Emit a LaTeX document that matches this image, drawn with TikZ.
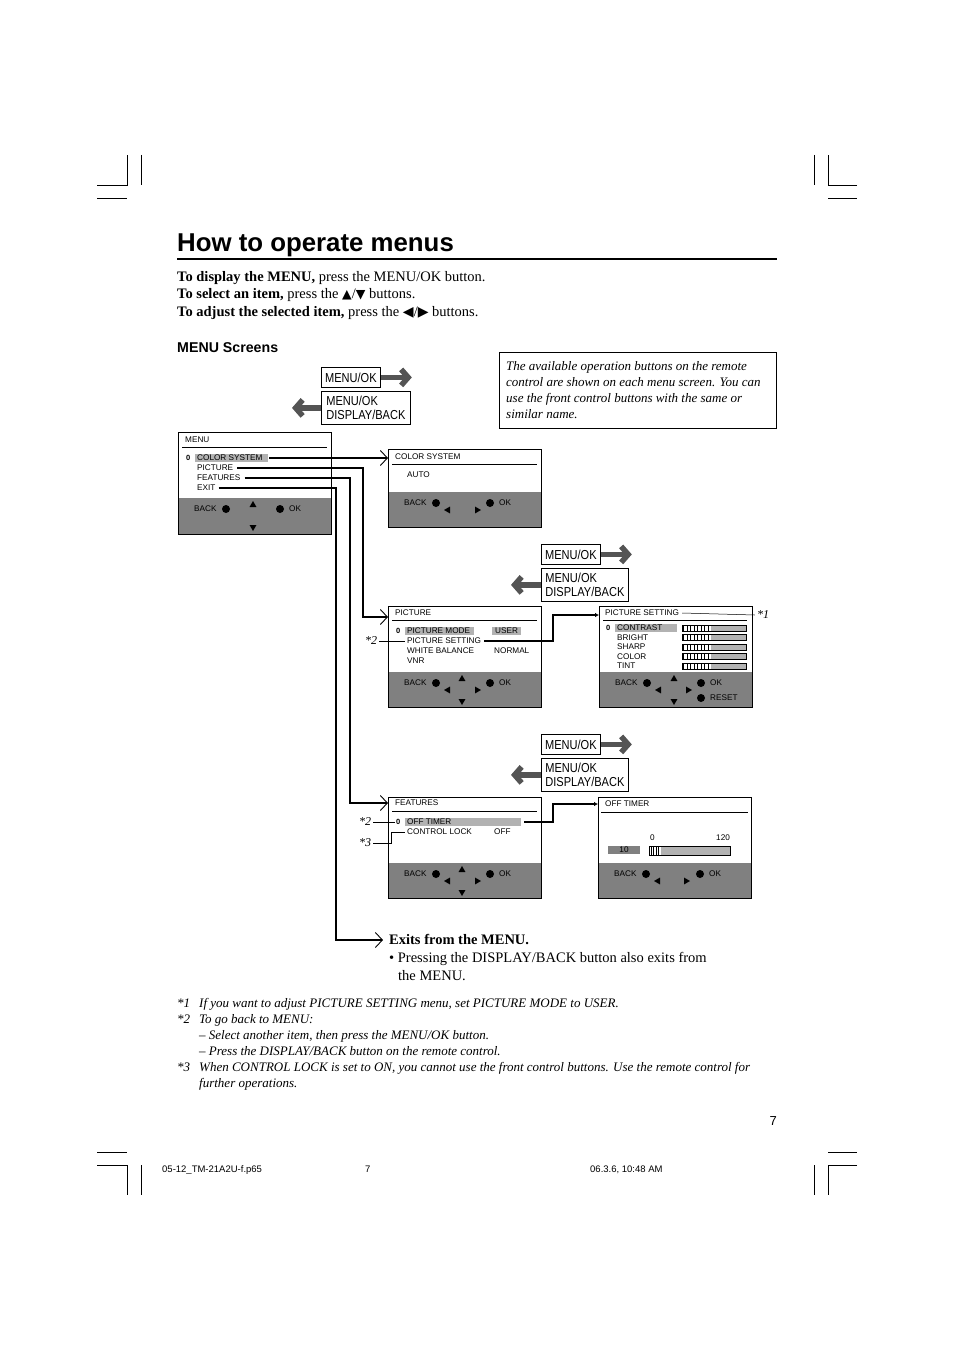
\documentclass[tikz,border=0pt]{standalone}
\usepackage{fontspec}
\setmainfont{Liberation Serif}
\setsansfont{Liberation Sans}
\newfontfamily\btnfont[FakeStretch=0.85]{Liberation Sans}
\newfontfamily\symfont{DejaVu Sans}
\usetikzlibrary{arrows.meta,shapes.geometric}
\definecolor{panelgray}{gray}{0.5}
\definecolor{hlgray}{gray}{0.7}
\definecolor{bargray}{gray}{0.7}
\definecolor{arrgray}{gray}{0.33}
\newcommand{\arrsym}[1]{{\symfont\fontsize{12.5}{14}\selectfont #1}}
\newcommand{\lrsym}[1]{{\symfont\fontsize{14}{14}\selectfont #1}}

\begin{document}
\begin{tikzpicture}[x=1pt,y=-1pt,
  scr/.style={draw, line width=0.8pt, anchor=north west, inner sep=0, minimum width=153},
  txt/.style={anchor=west, inner sep=0, font=\sffamily\fontsize{8.2}{9}\selectfont},
  selm/.style={anchor=west, inner sep=0, font=\sffamily\bfseries\fontsize{7.5}{8}\selectfont},
  hlbox/.style={fill=hlgray, anchor=west, inner sep=0, minimum height=8.5},
  dot/.style={circle, fill, inner sep=0, minimum size=8},
  tri/.style={regular polygon, regular polygon sides=3, fill, inner sep=0, minimum size=8},
  conn/.style={line width=1.6pt},
  head/.style={-{Straight Barb[length=7pt,width=15pt,line width=0.9pt]}},
  thinconn/.style={line width=1.3pt, -{Latex[length=4pt,width=4.5pt]}},
  ast/.style={inner sep=0, font=\itshape\fontsize{12}{14}\selectfont},
  btn/.style={draw, line width=0.8pt, anchor=north west, inner sep=2pt, align=left, font=\btnfont\fontsize{13}{14}\selectfont},
  bigarr/.style={draw=arrgray, line width=5.5pt, -{Straight Barb[length=7pt,width=16pt]}},
  body/.style={anchor=base west, inner sep=0, font=\fontsize{14.5}{17}\selectfont},
  note/.style={anchor=base west, inner sep=0, font=\itshape\fontsize{13}{15}\selectfont},
  foot/.style={anchor=base west, inner sep=0, font=\sffamily\fontsize{9.5}{11}\selectfont},
  crop/.style={line width=0.8pt}]

\fill[white] (0,0) rectangle (954,1351);
\useasboundingbox (0,0) rectangle (954,1351);

\draw[crop] (97,185) -- (127,185) -- (127,155);
\draw[crop] (141,155) -- (141,185);
\draw[crop] (97,198) -- (127,198);
\draw[crop] (857,185) -- (828,185) -- (828,155);
\draw[crop] (814,155) -- (814,185);
\draw[crop] (828,198) -- (857,198);
\draw[crop] (97,1152) -- (127,1152);
\draw[crop] (97,1165) -- (127,1165) -- (127,1195);
\draw[crop] (141,1165) -- (141,1195);
\draw[crop] (828,1152) -- (857,1152);
\draw[crop] (857,1165) -- (828,1165) -- (828,1195);
\draw[crop] (814,1165) -- (814,1195);

\node[anchor=base west, inner sep=0, font=\sffamily\bfseries\fontsize{25.8}{30}\selectfont] (title) at (177,251) {How to operate menus};
\draw[line width=1.8pt] (177,259) -- (777,259);

\node[body] (l1) at (177,281) {\textbf{To display the MENU,} press the MENU/OK button.};
\node[body] (l2) at (177,298.5) {\textbf{To select an item,} press the \arrsym{▲}/\arrsym{▼} buttons.};
\node[body] (l3) at (177,316) {\textbf{To adjust the selected item,} press the \lrsym{◀}/\lrsym{▶} buttons.};

\node[anchor=base west, inner sep=0, font=\sffamily\bfseries\fontsize{14.2}{16}\selectfont] (hscr) at (177,352) {MENU Screens};

\node[draw, line width=0.8pt, anchor=north west, inner sep=0, minimum width=277, minimum height=76] (notebox) at (499,352) {};
\node[note] (n1) at (506,370) {The available operation buttons on the remote};
\node[note] (n2) at (506,386) {control are shown on each menu screen. You can};
\node[note] (n3) at (506,402) {use the front control buttons with the same or};
\node[note] (n4) at (506,418) {similar name.};

\node[btn, minimum width=59, minimum height=20] (ok1) at (321,367) {MENU/OK};
\node[btn, minimum width=89, minimum height=33] (back1) at (321,391) {MENU/OK\\DISPLAY/BACK};
\draw[bigarr] (ok1.east) -- ++(31,0);
\draw[bigarr] (back1.west) -- ++(-29,0);

\node[btn, minimum width=59, minimum height=20] (ok2) at (541,544) {MENU/OK};
\node[btn, minimum width=87, minimum height=33] (back2) at (541,568) {MENU/OK\\DISPLAY/BACK};
\draw[bigarr] (ok2.east) -- ++(31,0);
\draw[bigarr] (back2.west) -- ++(-30,0);

\node[btn, minimum width=59, minimum height=20] (ok3) at (541,734) {MENU/OK};
\node[btn, minimum width=87, minimum height=33] (back3) at (541,758) {MENU/OK\\DISPLAY/BACK};
\draw[bigarr] (ok3.east) -- ++(31,0);
\draw[bigarr] (back3.west) -- ++(-30,0);

% MENU
\begin{scope}[shift={(178,432)}]
\fill[panelgray] (0,66) rectangle (153,102);
\node[scr, minimum height=102] (smenu) at (0,0) {};
\node[txt] (tmenu) at (7,8) {MENU};
\draw[line width=0.6pt] (4,15) -- (149,15);
\node[hlbox, minimum width=73] (hcs) at (17,26) {};
\node[selm] (selmenu) at (8,26) {0};
\node[txt] (mcs) at (19,26) {COLOR SYSTEM};
\node[txt] (mpic) at (19,36) {PICTURE};
\node[txt] (mfeat) at (19,46) {FEATURES};
\node[txt] (mexit) at (19,56) {EXIT};
\node[txt] at (16,77) {BACK};
\node[dot] at (48,77) {};
\node[tri] at (75,73) {};
\node[tri, shape border rotate=180] at (75,95) {};
\node[dot] at (102,77) {};
\node[txt] at (111,77) {OK};
\end{scope}

% COLOR SYSTEM
\begin{scope}[shift={(388,449)}]
\fill[panelgray] (0,43) rectangle (153,78);
\node[scr, minimum height=78] (scs) at (0,0) {};
\node[txt] (tcs) at (7,8) {COLOR SYSTEM};
\draw[line width=0.6pt] (4,15) -- (149,15);
\node[txt] (cauto) at (19,26) {AUTO};
\node[txt] at (16,54) {BACK};
\node[dot] at (48,54) {};
\node[tri, shape border rotate=90] at (60,61) {};
\node[tri, shape border rotate=-90] at (89,61) {};
\node[dot] at (102,54) {};
\node[txt] at (111,54) {OK};
\end{scope}

% PICTURE
\begin{scope}[shift={(388,606)}]
\fill[panelgray] (0,66) rectangle (153,101);
\node[scr, minimum height=101] (spic) at (0,0) {};
\node[txt] (tpic) at (7,7) {PICTURE};
\draw[line width=0.6pt] (4,14) -- (149,14);
\node[hlbox, minimum width=69] (hpmode) at (17,25) {};
\node[hlbox, minimum width=29] (huser) at (104,25) {};
\node[selm] (selpic) at (8,25) {0};
\node[txt] (ppmode) at (19,25) {PICTURE MODE};
\node[txt] (puser) at (107,25) {USER};
\node[txt] (ppset) at (19,35) {PICTURE SETTING};
\node[txt] (pwb) at (19,45) {WHITE BALANCE};
\node[txt] (pnorm) at (106,45) {NORMAL};
\node[txt] (pvnr) at (19,55) {VNR};
\node[txt] at (16,77) {BACK};
\node[dot] at (48,77) {};
\node[tri, shape border rotate=90] at (60,84) {};
\node[tri] at (74,73) {};
\node[tri, shape border rotate=180] at (74,95) {};
\node[tri, shape border rotate=-90] at (89,84) {};
\node[dot] at (102,77) {};
\node[txt] at (111,77) {OK};
\end{scope}

% PICTURE SETTING
\begin{scope}[shift={(599,606)}]
\fill[panelgray] (0,66) rectangle (153,101);
\node[scr, minimum height=101] (spset) at (0,0) {};
\node[txt] (pstitle) at (6,7) {PICTURE SETTING};
\draw[line width=0.6pt] (4,14) -- (148,14);
\node[hlbox, minimum width=62] (hcon) at (16,22) {};
\node[selm] (selps) at (7,22) {0};
\node[txt] (scon) at (18,22) {CONTRAST};
\node[txt] (sbri) at (18,32) {BRIGHT};
\node[txt] (ssha) at (18,41) {SHARP};
\node[txt] (scol) at (18,51) {COLOR};
\node[txt] (stint) at (18,60) {TINT};
\foreach \yy in {19,28.5,38,47.5,57} {
  \fill[bargray] (83,\yy) rectangle (147,\yy+6);
  \fill[white] (84,\yy) rectangle (112,\yy+6);
  \foreach \xx in {84.5,88,...,112} \draw[line width=0.8pt] (\xx,\yy) -- (\xx,\yy+6);
  \draw[line width=0.6pt] (83,\yy) rectangle (147,\yy+6);
}
\node[txt] at (16,77) {BACK};
\node[dot] at (48,77) {};
\node[tri, shape border rotate=90] at (60,84) {};
\node[tri] at (75,73) {};
\node[tri, shape border rotate=180] at (75,95) {};
\node[tri, shape border rotate=-90] at (89,84) {};
\node[dot] at (102,77) {};
\node[txt] at (111,77) {OK};
\node[dot] at (102,92) {};
\node[txt] at (111,92) {RESET};
\end{scope}

% FEATURES
\begin{scope}[shift={(388,797)}]
\fill[panelgray] (0,66) rectangle (153,101);
\node[scr, minimum height=101] (sfeat) at (0,0) {};
\node[txt] (tfeat) at (7,6) {FEATURES};
\draw[line width=0.6pt] (4,14) -- (149,14);
\node[hlbox, minimum width=116] (hofft) at (17,25) {};
\node[selm] (fsel) at (8,25) {0};
\node[txt] (fofft) at (19,25) {OFF TIMER};
\node[txt] (fcl) at (19,35) {CONTROL LOCK};
\node[txt] (foff) at (106,35) {OFF};
\node[txt] at (16,77) {BACK};
\node[dot] at (48,77) {};
\node[tri, shape border rotate=90] at (60,84) {};
\node[tri] at (74,73) {};
\node[tri, shape border rotate=180] at (74,95) {};
\node[tri, shape border rotate=-90] at (89,84) {};
\node[dot] at (102,77) {};
\node[txt] at (111,77) {OK};
\end{scope}

% OFF TIMER
\begin{scope}[shift={(598,797)}]
\fill[panelgray] (0,66) rectangle (153,101);
\node[scr, minimum height=101] (soff) at (0,0) {};
\node[txt] (toff) at (7,7) {OFF TIMER};
\draw[line width=0.6pt] (3,15) -- (150,15);
\node[txt] (omin) at (52,41) {0};
\node[txt] (omax) at (118,41) {120};
\fill[panelgray] (10,49) rectangle (42,57);
\node[txt, anchor=center] (oval) at (26,53) {10};
\fill[bargray] (51,49) rectangle (132,58);
\fill[white] (52,49) rectangle (63,58);
\foreach \xx in {53,55.5,...,62} \draw[line width=0.8pt] (\xx,49) -- (\xx,58);
\draw[line width=0.6pt] (51,49) rectangle (132,58);
\node[txt] at (16,77) {BACK};
\node[dot] at (48,77) {};
\node[tri, shape border rotate=90] at (60,84) {};
\node[tri, shape border rotate=-90] at (88,84) {};
\node[dot] at (102,77) {};
\node[txt] at (111,77) {OK};
\end{scope}

\node[ast] (st1) at (763,615) {*1};
\draw[line width=0.5pt] ([xshift=3pt]pstitle.east) -- ([xshift=-2pt]st1.west);
\node[ast] (st2a) at (371,641) {*2};
\draw[line width=0.5pt] ([xshift=2pt]st2a.east) -- ([xshift=-2pt]ppset.west);
\node[ast] (st2b) at (365,822) {*2};
\draw[line width=0.5pt] ([xshift=2pt]st2b.east) -- ([xshift=-1pt]fsel.west);
\node[ast] (st3) at (365,843) {*3};
\coordinate (k3) at (391,843);
\draw[line width=0.5pt] ([xshift=2pt]st3.east) -- (k3) |- ([xshift=-2pt]fcl.west);

\node[body] (exits) at (389,944) {\textbf{Exits from the MENU.}};
\node[body] (ex2) at (389,962) {• Pressing the DISPLAY/BACK button also exits from};
\node[body] (ex3) at (398,980) {the MENU.};

\coordinate (kpic) at (363,617);
\coordinate (kfeat) at (350,803);
\coordinate (kexit) at (336,940);
\draw[conn, head] ([xshift=1pt]hcs.east) -- (hcs.east -| scs.west);
\draw[conn, head] ([xshift=4pt]mpic.east) -| (kpic) -- (kpic -| spic.west);
\draw[conn, head] ([xshift=4pt]mfeat.east) -| (kfeat) -- (kfeat -| sfeat.west);
\draw[conn, head, shorten >=6pt] ([xshift=3pt]mexit.east) -| (kexit) -- (kexit -| exits.west);
\coordinate (kpset) at (553,615);
\draw[thinconn] ([xshift=3pt]ppset.east) -| (kpset) -- (kpset -| spset.west);
\coordinate (koff) at (553,804);
\draw[thinconn] ([xshift=3pt]hofft.east) -| (koff) -- (koff -| soff.west);

\node[note] (f1m) at (177,1007) {*1};
\node[note] (f1) at (199,1007) {If you want to adjust PICTURE SETTING menu, set PICTURE MODE to USER.};
\node[note] (f2m) at (177,1023) {*2};
\node[note] (f2) at (199,1023) {To go back to MENU:};
\node[note] (f2a) at (199,1039) {– Select another item, then press the MENU/OK button.};
\node[note] (f2b) at (199,1055) {– Press the DISPLAY/BACK button on the remote control.};
\node[note] (f3m) at (177,1071) {*3};
\node[note] (f3) at (199,1071) {When CONTROL LOCK is set to ON, you cannot use the front control buttons. Use the remote control for};
\node[note] (f3a) at (199,1087) {further operations.};

\node[anchor=base east, inner sep=0, font=\sffamily\fontsize{13}{15}\selectfont] (pnum) at (777,1125) {7};
\node[foot] (ffile) at (162,1172) {05-12\_TM-21A2U-f.p65};
\node[foot] (fpage) at (365,1172) {7};
\node[foot] (fdate) at (590,1172) {06.3.6, 10:48 AM};
\end{tikzpicture}
\end{document}
